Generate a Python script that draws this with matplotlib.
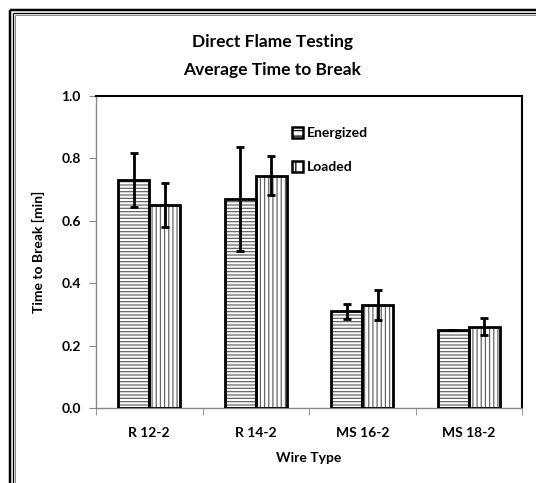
import matplotlib
matplotlib.use('Agg')
import matplotlib.pyplot as plt
from matplotlib.lines import Line2D
from matplotlib.patches import Patch
import numpy as np

# Tempos médios de ruptura por tipo de fio (min)
wire_types = ['R 12-2', 'R 14-2', 'MS 16-2', 'MS 18-2']
energized = [0.73, 0.67, 0.31, 0.25]
energized_err = [0.087, 0.168, 0.024, 0.0]
loaded = [0.65, 0.745, 0.33, 0.26]
loaded_err = [0.07, 0.063, 0.047, 0.027]

plt.rcParams['font.family'] = ['Lato', 'DejaVu Sans']
plt.rcParams['font.weight'] = 'bold'
plt.rcParams['axes.labelweight'] = 'bold'
plt.rcParams['hatch.linewidth'] = 0.9

W, H = 536, 483
fig = plt.figure(figsize=(W / 100, H / 100), dpi=100)
ax = fig.add_axes([96 / W, 1 - 408 / H, 426 / W, 312 / H])

x = np.arange(len(wire_types))
w = 0.29

for vals, errs, off, hatch in [(energized, energized_err, -w / 2, '-----'),
                               (loaded, loaded_err, w / 2, '||||')]:
    # hachura cinza + contorno preto grosso
    ax.bar(x + off, vals, w, color='white', edgecolor='#666666', hatch=hatch, linewidth=0, zorder=2)
    ax.bar(x + off, vals, w, fill=False, edgecolor='black', linewidth=2.0, zorder=3)
    ax.errorbar(x + off, vals, yerr=errs, fmt='none', ecolor='black', elinewidth=2.0,
                capsize=3, capthick=2.0, zorder=4)

ax.set_xlim(-0.5, 3.5)
ax.set_ylim(0, 1.0)
ax.set_yticks(np.arange(0, 1.01, 0.2))
ax.set_yticklabels(['%.1f' % v for v in np.arange(0, 1.01, 0.2)], fontsize=10)
ax.set_xticks(x)
ax.set_xticklabels(wire_types, fontsize=10)
ax.tick_params(axis='x', which='major', length=0, pad=14)
ax.set_xticks(np.arange(-0.5, 4, 1), minor=True)
ax.tick_params(axis='x', which='minor', length=5, color='#888888', direction='out')
ax.tick_params(axis='y', length=5, color='#888888', direction='out', pad=6)

for s in ['left', 'bottom']:
    ax.spines[s].set_color('#888888')
    ax.spines[s].set_linewidth(1.0)
for s in ['top', 'right']:
    ax.spines[s].set_color('black')
    ax.spines[s].set_linewidth(1.5)

ax.set_xlabel('Wire Type', fontsize=10, labelpad=9)
ax.set_ylabel('Time to Break [min]', fontsize=10, labelpad=12)

# legenda com quadradinhos hachurados
handles = [Patch(facecolor='white', edgecolor='black', hatch='---', linewidth=1.8),
           Patch(facecolor='white', edgecolor='black', hatch='||', linewidth=1.8)]
leg = ax.legend(handles, ['Energized', 'Loaded'], loc='upper left', bbox_to_anchor=(0.43, 0.94),
                frameon=False, fontsize=10, handlelength=0.8, handleheight=0.8,
                handletextpad=0.3, labelspacing=1.55)

fig.text(272 / W, 1 - 42 / H, 'Direct Flame Testing', ha='center', va='center', fontsize=12.5)
fig.text(272 / W, 1 - 70 / H, 'Average Time to Break', ha='center', va='center', fontsize=12.5)

# moldura tripla (esquerda e topo)
for pos, lw, col in [(9.5, 2.5, 'black'), (12.8, 1.3, 'black'), (14.8, 1.0, '#888888')]:
    fig.add_artist(Line2D([pos / W, pos / W], [0, 1 - pos / H], transform=fig.transFigure,
                          color=col, linewidth=lw * 0.72, solid_capstyle='butt'))
    fig.add_artist(Line2D([pos / W, 1], [1 - pos / H, 1 - pos / H], transform=fig.transFigure,
                          color=col, linewidth=lw * 0.72, solid_capstyle='butt'))

fig.savefig('out.png', dpi=100)
